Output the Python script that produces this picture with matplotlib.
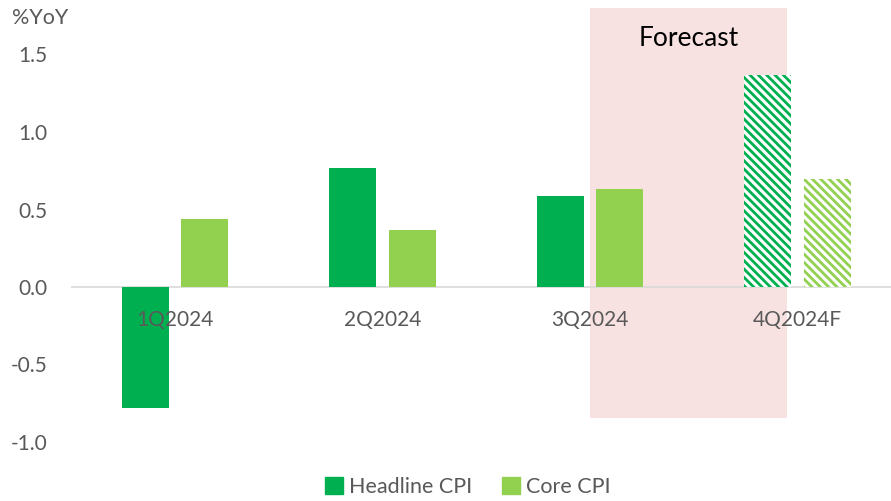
import matplotlib.pyplot as plt
import matplotlib.patches as mpatches
import numpy as np

plt.rcParams['font.family'] = ['Lato', 'DejaVu Sans']
plt.rcParams['hatch.linewidth'] = 2.0

quarters = ['1Q2024', '2Q2024', '3Q2024', '4Q2024F']
headline_cpi = [-0.78, 0.77, 0.59, 1.37]
core_cpi = [0.44, 0.37, 0.63, 0.70]
forecast = [False, False, False, True]
yticks = [-1.0, -0.5, 0.0, 0.5, 1.0, 1.5]

green = '#00B050'
light_green = '#92D050'
grey_text = '#595959'

fig = plt.figure(figsize=(8.91, 5.01), dpi=100)
ax = fig.add_axes([71 / 891, (501 - 442) / 501, (891 - 71) / 891, 434 / 501])

x = np.arange(len(quarters))
w = 0.226
off = 0.143

# forecast shading
ax.add_patch(mpatches.Rectangle((2.0, -0.845), 0.95, 2.645, facecolor='#F7E1E1',
                                edgecolor='none', zorder=0))
ax.text(2.475, 1.605, 'Forecast', ha='center', va='center', fontsize=19, color='black')

for i in x:
    if forecast[i]:
        ax.bar(i - off, headline_cpi[i], w, facecolor='white', edgecolor=green,
               linewidth=0, hatch='\\\\\\\\', zorder=2)
        ax.bar(i + off, core_cpi[i], w, facecolor='white', edgecolor=light_green,
               linewidth=0, hatch='\\\\\\\\', zorder=2)
    else:
        ax.bar(i - off, headline_cpi[i], w, color=green, zorder=2)
        ax.bar(i + off, core_cpi[i], w, color=light_green, zorder=2)

ax.axhline(0, color='#D9D9D9', linewidth=1.2, zorder=1)

for i, q in enumerate(quarters):
    ax.text(i, -0.21, q, ha='center', va='center', fontsize=15, color=grey_text, zorder=3)

ax.set_xlim(-0.5, 3.45)
ax.set_ylim(-1.0, 1.8)
ax.set_yticks(yticks)
ax.set_yticklabels([f'{v:.1f}' for v in yticks], fontsize=15, color=grey_text)
ax.set_xticks([])
ax.tick_params(axis='y', length=0, pad=17)
for s in ax.spines.values():
    s.set_visible(False)

fig.text(12 / 891, 1 - 18 / 501, '%YoY', ha='left', va='center', fontsize=15.5, color=grey_text)

handles = [mpatches.Patch(color=green, label='Headline CPI'),
           mpatches.Patch(color=light_green, label='Core CPI')]
fig.legend(handles=handles, loc='center', bbox_to_anchor=(468 / 891, 1 - 487 / 501), ncol=2,
           frameon=False, fontsize=15.5, labelcolor=grey_text, handlelength=0.8,
           handleheight=0.8, handletextpad=0.3, columnspacing=1.4)

fig.savefig('out.png', dpi=100)
